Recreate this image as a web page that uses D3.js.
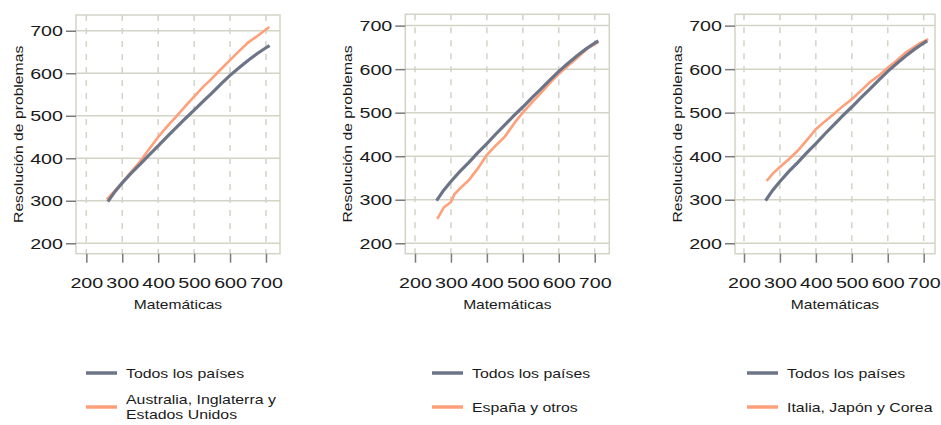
<!DOCTYPE html>
<html>
<head>
<meta charset="utf-8">
<script src="https://cdn.jsdelivr.net/npm/d3@7"></script>
<style>
  body { margin: 0; background: #fff; }
  text { font-family: "Liberation Sans", Arial, sans-serif; fill: #1a1a1a; }
</style>
</head>
<body>
<svg id="chart" width="941" height="425"></svg>
<script>
var xTicks = [200, 300, 400, 500, 600, 700];
var yTicks = [200, 300, 400, 500, 600, 700];
var xTitle = 'Matemáticas';
var yTitle = 'Resolución de problemas';
var allLabel = 'Todos los países';

// "Todos los países" — same curve in every panel
var allMath = [260, 280, 300, 325, 350, 375, 400, 425, 450, 475, 500, 525, 550, 575, 600, 625, 650, 675, 700, 710];
var allProb = [298, 322, 342, 365, 386, 408, 429, 451, 472, 493, 513, 534, 554, 575, 595, 613, 630, 646, 660, 665];

var groupLabels = [['Australia, Inglaterra y', 'Estados Unidos'], ['España y otros'], ['Italia, Japón y Corea']];
var groupMath = [
  [257, 280, 300, 325, 350, 375, 400, 425, 450, 475, 500, 525, 550, 575, 600, 625, 650, 680, 700, 709],
  [262, 280, 300, 310, 330, 350, 375, 400, 425, 450, 480, 500, 525, 550, 575, 600, 625, 650, 680, 710],
  [263, 280, 300, 325, 350, 375, 400, 425, 450, 475, 500, 525, 550, 575, 600, 625, 650, 690, 713]
];
var groupProb = [
  [303, 324, 343, 368, 393, 422, 450, 475, 498, 522, 545, 568, 588, 610, 631, 652, 672, 690, 703, 709],
  [256, 282, 295, 313, 330, 345, 372, 403, 425, 445, 480, 500, 523, 545, 568, 589, 607, 625, 648, 662],
  [343, 360, 375, 393, 413, 437, 462, 480, 497, 515, 531, 550, 570, 585, 603, 620, 638, 660, 669]
];

var panels = [
  { x0: 76, x1: 280, y0: 15, y1: 253.7, xd: [171.3, 739], yd: [175.5, 737], legX: 86 },
  { x0: 405.3, x1: 609.3, y0: 14.3, y1: 253.7, xd: [173, 740.6], yd: [176, 726], legX: 432 },
  { x0: 735, x1: 935, y0: 14.3, y1: 253.7, xd: [175, 731.5], yd: [176, 726], legX: 747 }
];

var grayCol = '#6c7487';
var orangeCol = '#ffa07a';
var gridCol = '#d3d3c6';

var svg = d3.select('#chart');

// horizontally stretched text like the original export
var stretchText = function(sel, sx) {
  sel.attr('transform', function() {
    var t = d3.select(this);
    var x = +t.attr('x'), y = +t.attr('y');
    return 'translate(' + x + ',' + y + ') scale(' + sx + ',1) translate(' + (-x) + ',' + (-y) + ')';
  });
};

panels.forEach(function(p, i) {
  var g = svg.append('g');
  var x = d3.scaleLinear().domain(p.xd).range([p.x0, p.x1]);
  var y = d3.scaleLinear().domain(p.yd).range([p.y1, p.y0]);

  // grid
  g.selectAll('.hgrid').data(yTicks).enter().append('line')
    .attr('x1', p.x0).attr('x2', p.x1)
    .attr('y1', function(d) { return y(d); }).attr('y2', function(d) { return y(d); })
    .attr('stroke', gridCol).attr('stroke-width', 1.5);
  g.selectAll('.vgrid').data(xTicks).enter().append('line')
    .attr('y1', p.y0).attr('y2', p.y1)
    .attr('x1', function(d) { return x(d); }).attr('x2', function(d) { return x(d); })
    .attr('stroke', gridCol).attr('stroke-width', 1.5).attr('stroke-dasharray', '6,7');

  g.append('rect')
    .attr('x', p.x0).attr('y', p.y0)
    .attr('width', p.x1 - p.x0).attr('height', p.y1 - p.y0)
    .attr('fill', 'none').attr('stroke', gridCol).attr('stroke-width', 1.5);

  // axes
  var xAxis = g.append('g').attr('transform', 'translate(0,' + p.y1 + ')')
    .call(d3.axisBottom(x).tickValues(xTicks).tickSize(9).tickPadding(14));
  var yAxis = g.append('g').attr('transform', 'translate(' + p.x0 + ',0)')
    .call(d3.axisLeft(y).tickValues(yTicks).tickSize(10).tickPadding(3));
  [xAxis, yAxis].forEach(function(a) {
    a.select('.domain').remove();
    a.selectAll('.tick line').attr('stroke', '#7a7a7a').attr('stroke-width', 1.5);
    a.selectAll('.tick text').attr('font-size', 15.5).attr('fill', '#111')
      .style('font-family', '"Liberation Sans", Arial, sans-serif');
  });
  xAxis.selectAll('.tick text').attr('transform', 'scale(1.27,1)');
  yAxis.selectAll('.tick text').attr('transform', 'scale(1.27,1)').attr('x', -13 / 1.27);

  // titles
  var xt = g.append('text')
    .attr('x', (p.x0 + p.x1) / 2).attr('y', 309)
    .attr('text-anchor', 'middle').attr('font-size', 13)
    .text(xTitle);
  stretchText(xt, 1.2);
  var yc = (p.y0 + p.y1) / 2;
  g.append('g').attr('transform', 'translate(' + (p.x0 - 53) + ',' + yc + ') rotate(-90)')
    .append('text').attr('x', 0).attr('y', 0)
    .attr('text-anchor', 'middle').attr('font-size', 13)
    .attr('transform', 'scale(1.21,1)')
    .text(yTitle);

  // lines
  var line = d3.line()
    .x(function(d) { return x(d[0]); })
    .y(function(d) { return y(d[1]); });
  var groupPts = d3.zip(groupMath[i], groupProb[i]);
  var allPts = d3.zip(allMath, allProb);
  g.append('path').datum(groupPts).attr('d', line)
    .attr('fill', 'none').attr('stroke', orangeCol).attr('stroke-width', 2.6);
  g.append('path').datum(allPts).attr('d', line)
    .attr('fill', 'none').attr('stroke', grayCol).attr('stroke-width', 3.2);

  // legend
  var leg = g.append('g');
  var items = [{ col: grayCol, lines: [allLabel], y: 373 }, { col: orangeCol, lines: groupLabels[i], y: 407 }];
  items.forEach(function(it) {
    leg.append('line')
      .attr('x1', p.legX).attr('x2', p.legX + 31)
      .attr('y1', it.y).attr('y2', it.y)
      .attr('stroke', it.col).attr('stroke-width', 3.5);
    var t0 = it.y + 5 - (it.lines.length - 1) * 7.5;
    it.lines.forEach(function(s, k) {
      var t = leg.append('text')
        .attr('x', p.legX + 40).attr('y', t0 + k * 15)
        .attr('font-size', 13).text(s);
      stretchText(t, 1.22);
    });
  });
});
</script>
</body>
</html>
